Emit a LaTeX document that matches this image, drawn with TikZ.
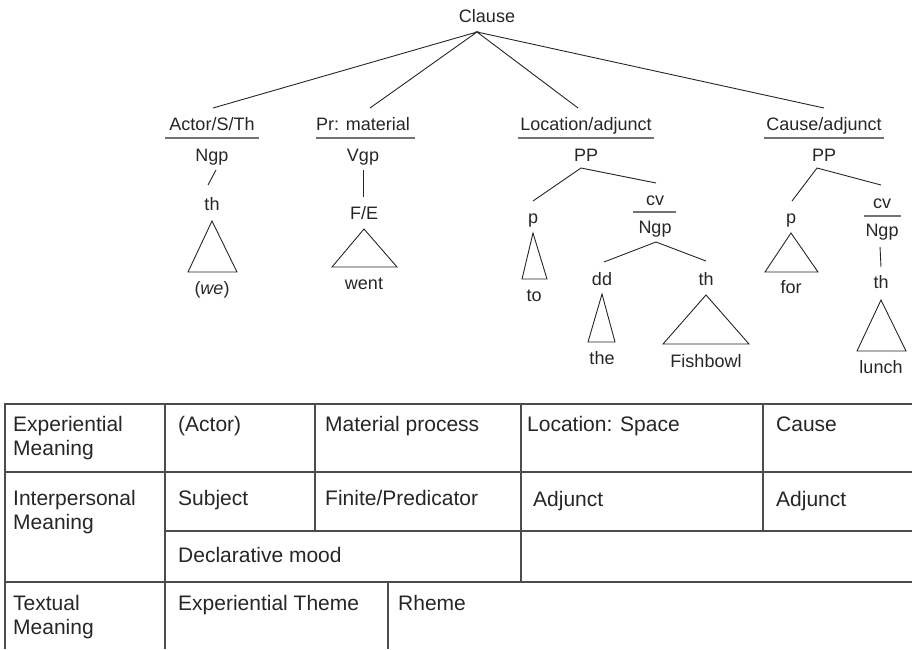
\documentclass[tikz,border=0pt]{standalone}
\usepackage{fontspec}
\setmainfont{Liberation Sans}
\begin{document}
\begin{tikzpicture}[x=1pt,y=-1pt,
  tl/.style={inner sep=0pt, anchor=base, font=\fontsize{18}{21}\selectfont, text=black!85},
  tt/.style={inner sep=0pt, anchor=base west, font=\fontsize{21}{24}\selectfont, text=black!85},
  edge/.style={line width=0.9pt, black!85},
  urule/.style={line width=1.4pt, black!55},
  grid/.style={line width=1.2pt, black!70}]
\useasboundingbox (0,0) rectangle (912,649);

% ---------------- tree ----------------
\node[tl] (clause) at (487,22) {Clause};
\coordinate (capex) at (477,32);

\node[tl] (actor) at (212,130) {Actor/S/Th};
\node[tl] (ngp1) at (212,161) {Ngp};
\coordinate (actortop) at (213,108);
\draw[urule] (165,138) coordinate (u1a) -- (259,138) coordinate (u1b);

\node[tl] (pr) at (363,130) {Pr: material};
\node[tl] (vgp) at (363,161) {Vgp};
\coordinate (prtop) at (370,108);
\draw[urule] (316,138) coordinate (u2a) -- (415,138) coordinate (u2b);

\node[tl] (loc) at (586,130) {Location/adjunct};
\node[tl] (pp1) at (586,161) {PP};
\coordinate (loctop) at (578,108);
\draw[urule] (518,138) coordinate (u3a) -- (654,138) coordinate (u3b);

\node[tl] (cause) at (824,130) {Cause/adjunct};
\node[tl] (pp2) at (824,161) {PP};
\coordinate (causetop) at (824,108);
\draw[urule] (764,138) coordinate (u4a) -- (884,138) coordinate (u4b);

\draw[edge] (actortop) -- (capex) -- (prtop);
\draw[edge] (loctop) -- (capex) -- (causetop);

% Actor branch
\coordinate (a1) at (216,170);
\coordinate (a2) at (208,185);
\draw[edge] (a1) -- (a2);
\node[tl] (th1) at (212,210) {th};
\draw[edge] (212,221) coordinate (t1a) -- (188,272) coordinate (t1b) -- (237,272) coordinate (t1c) -- cycle;
\node[tl] (we) at (212,294) {(\textit{we})};

% Pr branch
\draw[edge] (363,170) coordinate (v1) -- (363,197) coordinate (v2);
\node[tl] (fe) at (364,219) {F/E};
\draw[edge] (364,229) coordinate (t2a) -- (332,267) coordinate (t2b) -- (397,267) coordinate (t2c) -- cycle;
\node[tl] (went) at (364,289) {went};

% Location PP
\coordinate (lapex) at (581,168);
\coordinate (lleft) at (533,201);
\coordinate (lright) at (656,183);
\draw[edge] (lleft) -- (lapex) -- (lright);
\node[tl] (p1) at (533,223) {p};
\draw[edge] (533,233) coordinate (t3a) -- (522,279) coordinate (t3b) -- (547,279) coordinate (t3c) -- cycle;
\node[tl] (to) at (534,301) {to};
\node[tl] (cv1) at (655,205) {cv};
\draw[urule] (633,212) coordinate (u5a) -- (676,212) coordinate (u5b);
\node[tl] (ngp2) at (655,233) {Ngp};
\coordinate (napex) at (656,242);
\coordinate (nleft) at (604,262);
\coordinate (nright) at (706,261);
\draw[edge] (nleft) -- (napex) -- (nright);
\node[tl] (dd) at (602,285) {dd};
\draw[edge] (602,294) coordinate (t4a) -- (588,342) coordinate (t4b) -- (615,342) coordinate (t4c) -- cycle;
\node[tl] (the) at (602,364) {the};
\node[tl] (th2) at (706,285) {th};
\draw[edge] (706,295) coordinate (t5a) -- (663,344) coordinate (t5b) -- (749,344) coordinate (t5c) -- cycle;
\node[tl] (fish) at (706,367) {Fishbowl};

% Cause PP
\coordinate (capex2) at (817,168);
\coordinate (cleft) at (792,201);
\coordinate (cright) at (881,185);
\draw[edge] (cleft) -- (capex2) -- (cright);
\node[tl] (p2) at (791,223) {p};
\draw[edge] (791,233) coordinate (t6a) -- (765,272) coordinate (t6b) -- (818,272) coordinate (t6c) -- cycle;
\node[tl] (for) at (791,293) {for};
\node[tl] (cv2) at (882,208) {cv};
\draw[urule] (864,216) coordinate (u6a) -- (901,216) coordinate (u6b);
\node[tl] (ngp3) at (882,236) {Ngp};
\draw[edge] (880,247) coordinate (c1) -- (881,267) coordinate (c2);
\node[tl] (th3) at (881,288) {th};
\draw[edge] (881,300) coordinate (t7a) -- (857,351) coordinate (t7b) -- (906,351) coordinate (t7c) -- cycle;
\node[tl] (lunch) at (881,373) {lunch};

% ---------------- table ----------------
\coordinate (tl0) at (5,404);
\draw[grid] (912,404) -- (5,404) -- (5,649);
\draw[grid] (5,472) -- (912,472);
\draw[grid] (165,531) -- (912,531);
\draw[grid] (5,582) -- (912,582);
\draw[grid] (165,404) -- (165,649);
\draw[grid] (315,404) -- (315,531);
\draw[grid] (521,404) -- (521,582);
\draw[grid] (763,404) -- (763,531);
\draw[grid] (388,582) -- (388,649);

\node[tt] (e1) at (13,431) {Experiential};
\node[tt] (e2) at (13,455) {Meaning};
\node[tt] (actor2) at (178,431) {(Actor)};
\node[tt] (matp) at (325,431) {Material process};
\node[tt] (locsp) at (527,431) {Location: Space};
\node[tt] (caus) at (776,431) {Cause};

\node[tt] (i1) at (13,505) {Interpersonal};
\node[tt] (i2) at (13,529) {Meaning};
\node[tt] (subj) at (178,505) {Subject};
\node[tt] (finp) at (325,505) {Finite/Predicator};
\node[tt] (adj1) at (533,506) {Adjunct};
\node[tt] (adj2) at (776,506) {Adjunct};
\node[tt] (decl) at (178,562) {Declarative mood};

\node[tt] (x1) at (13,610) {Textual};
\node[tt] (x2) at (13,634) {Meaning};
\node[tt] (expth) at (178,610) {Experiential Theme};
\node[tt] (rheme) at (398,610) {Rheme};
\end{tikzpicture}
\end{document}
